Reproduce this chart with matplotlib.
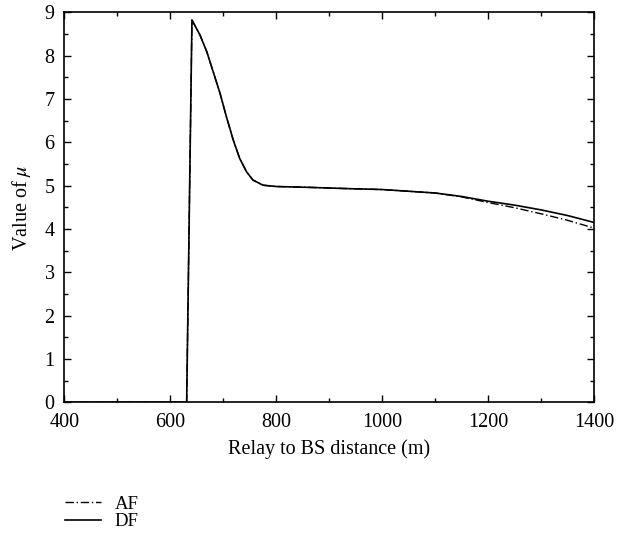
import matplotlib
matplotlib.use("Agg")
import matplotlib.pyplot as plt
from matplotlib.ticker import MultipleLocator

plt.rcParams['font.family'] = ['Liberation Serif', 'DejaVu Serif']
plt.rcParams['mathtext.fontset'] = 'stix'

# valores
dist = [400, 631, 641, 656, 669, 681, 694, 706, 719, 731, 744, 756, 775, 800, 862,
        938, 1000, 1050, 1100, 1150, 1200, 1250, 1300, 1350, 1400]
mu_df = [0, 0, 8.82, 8.48, 8.09, 7.63, 7.13, 6.59, 6.05, 5.63, 5.32, 5.13, 5.01, 4.98, 4.96,
         4.93, 4.91, 4.87, 4.83, 4.75, 4.64, 4.55, 4.44, 4.31, 4.15]
mu_af = [0, 0, 8.82, 8.48, 8.09, 7.63, 7.13, 6.59, 6.05, 5.63, 5.32, 5.13, 5.01, 4.98, 4.96,
         4.93, 4.91, 4.87, 4.83, 4.74, 4.61, 4.49, 4.35, 4.20, 4.02]

fig = plt.figure(figsize=(6.32, 5.39), dpi=100)
ax = fig.add_axes([0.1017, 0.2536, 0.8383, 0.7236])

ax.plot(dist, mu_af, color='black', lw=1.0, ls=(0, (6, 2, 1, 2)), label='AF')
ax.plot(dist, mu_df, color='black', lw=1.2, label='DF')

ax.set_xlim(400, 1400)
ax.set_ylim(0, 9)
ax.xaxis.set_major_locator(MultipleLocator(200))
ax.xaxis.set_minor_locator(MultipleLocator(100))
ax.yaxis.set_major_locator(MultipleLocator(1))
ax.yaxis.set_minor_locator(MultipleLocator(0.5))
ax.tick_params(which='both', direction='in', top=True, right=True, labelsize=14.5)
ax.tick_params(axis='x', which='major', pad=8)
ax.tick_params(axis='y', which='major', pad=7)
ax.tick_params(which='major', length=5, width=1)
ax.tick_params(which='minor', length=3, width=1)
for s in ax.spines.values():
    s.set_linewidth(1.2)

ax.set_xlabel('Relay to BS distance (m)', fontsize=14.5, labelpad=5)
ax.set_ylabel(r'Value of $\mu$', fontsize=14.5, labelpad=8)

fig.legend(loc='upper left', bbox_to_anchor=(0.103, 0.080), frameon=False,
           fontsize=13.5, handlelength=1.9, handletextpad=0.75, labelspacing=0.0,
           borderpad=0, borderaxespad=0)

fig.savefig('out.png', dpi=100)
